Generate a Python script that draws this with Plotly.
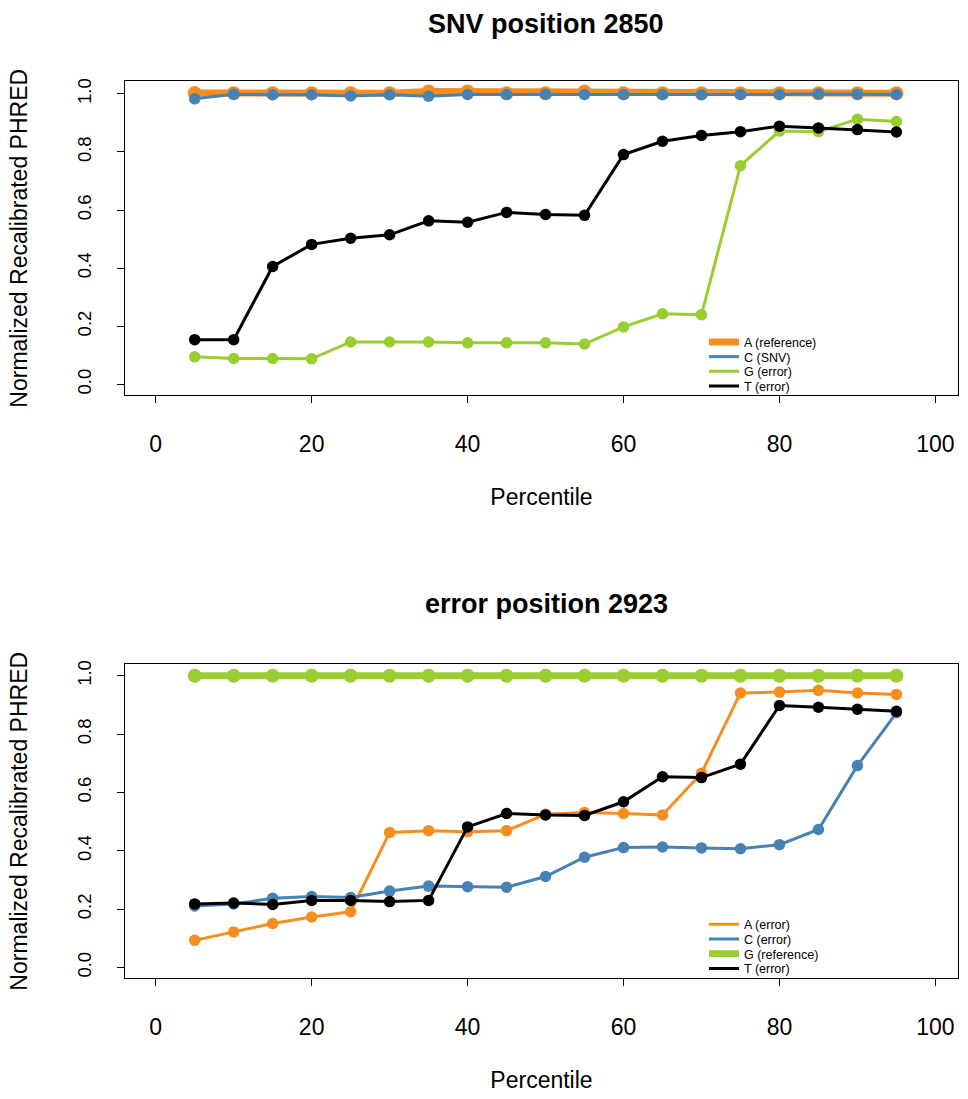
import plotly.graph_objects as go

# ---------------- data ----------------
percentile = [5, 10, 15, 20, 25, 30, 35, 40, 45, 50, 55, 60, 65, 70, 75, 80, 85, 90, 95]

# Panel 1: SNV position 2850
snv_A_reference = [1.003, 1.002, 1.002, 1.002, 1.002, 1.002, 1.008, 1.008, 1.002, 1.002,
                   1.008, 1.002, 1.002, 1.002, 1.002, 1.002, 1.002, 1.002, 1.002]
snv_C_snv = [0.983, 0.999, 0.997, 0.997, 0.993, 0.997, 0.992, 0.998, 0.998, 0.999,
             0.998, 0.998, 0.998, 0.997, 0.998, 0.998, 1.000, 0.999, 0.998]
snv_G_error = [0.095, 0.089, 0.089, 0.088, 0.146, 0.146, 0.146, 0.143, 0.143, 0.143,
               0.139, 0.198, 0.243, 0.240, 0.753, 0.872, 0.870, 0.913, 0.905]
snv_T_error = [0.154, 0.154, 0.406, 0.482, 0.503, 0.515, 0.563, 0.558, 0.592, 0.585,
               0.582, 0.791, 0.837, 0.857, 0.870, 0.889, 0.883, 0.877, 0.869]

# Panel 2: error position 2923
err_A_error = [0.093, 0.122, 0.151, 0.173, 0.191, 0.463, 0.469, 0.465, 0.469, 0.525,
               0.531, 0.528, 0.523, 0.666, 0.941, 0.944, 0.950, 0.941, 0.936]
err_C_error = [0.211, 0.218, 0.237, 0.243, 0.240, 0.262, 0.279, 0.277, 0.275, 0.312,
               0.378, 0.411, 0.413, 0.410, 0.407, 0.421, 0.473, 0.692, 0.873]
err_G_reference = [1.0] * 19
err_T_error = [0.218, 0.221, 0.216, 0.230, 0.230, 0.226, 0.230, 0.482, 0.528, 0.523,
               0.521, 0.568, 0.654, 0.651, 0.697, 0.898, 0.892, 0.885, 0.878]

titles = ["SNV position 2850", "error position 2923"]
x_ticks = [0, 20, 40, 60, 80, 100]
y_ticks = [0.0, 0.2, 0.4, 0.6, 0.8, 1.0]

ORANGE = "#F68D1F"
BLUE = "#4682B4"
GREEN = "#9ACD32"
BLACK = "#000000"

W, H = 968, 1099
FONT = "Liberation Sans, Arial, Helvetica, sans-serif"


def px_x(px):
    return px / W


def px_y(py):
    return 1 - py / H


fig = go.Figure()

panels = [
    dict(xa="x", ya="y", series=[
        ("A (reference)", snv_A_reference, ORANGE, True),
        ("C (SNV)", snv_C_snv, BLUE, False),
        ("G (error)", snv_G_error, GREEN, False),
        ("T (error)", snv_T_error, BLACK, False),
    ], legend_rows=[339.5, 354.3, 369.0, 383.8]),
    dict(xa="x2", ya="y2", series=[
        ("A (error)", err_A_error, ORANGE, False),
        ("C (error)", err_C_error, BLUE, False),
        ("G (reference)", err_G_reference, GREEN, True),
        ("T (error)", err_T_error, BLACK, False),
    ], legend_rows=[924.0, 938.8, 953.5, 968.3]),
]

legend_layouts = {}
lg_index = 1
for p in panels:
    for (name, vals, color, thick), row_y in zip(p["series"], p["legend_rows"]):
        lw = 7 if thick else 3
        ms = 14 if thick else 11.5
        fig.add_trace(go.Scatter(
            x=percentile, y=vals, mode="lines+markers", name=name,
            line=dict(color=color, width=lw),
            marker=dict(color=color, size=ms),
            xaxis=p["xa"], yaxis=p["ya"], showlegend=False,
        ))
        lg_name = "legend" if lg_index == 1 else f"legend{lg_index}"
        # legend-only entry (line sample without marker, as in the reference)
        fig.add_trace(go.Scatter(
            x=[None], y=[None], mode="lines", name=name,
            line=dict(color=color, width=lw),
            xaxis=p["xa"], yaxis=p["ya"], showlegend=True, legend=lg_name,
        ))
        legend_layouts[lg_name] = dict(
            x=px_x(704), y=px_y(row_y), xanchor="left", yanchor="middle",
            xref="paper", yref="paper",
            bgcolor="rgba(0,0,0,0)", borderwidth=0,
            font=dict(family=FONT, size=12.5, color="black"),
            itemclick=False, itemdoubleclick=False,
        )
        lg_index += 1

axis_common = dict(
    showline=True, linecolor="black", linewidth=1, mirror=True,
    ticks="outside", ticklen=7, tickwidth=1, tickcolor="black",
    showgrid=False, zeroline=False,
    tickfont=dict(family=FONT, color="black"),
)

x_dom = [px_x(125), px_x(958)]
top_dom = [px_y(392.8), px_y(77.5)]
bot_dom = [px_y(978), px_y(662.5)]

xaxis_def = dict(axis_common, domain=x_dom, range=[-3.94, 102.9],
                 tickvals=x_ticks, tickfont=dict(family=FONT, size=23, color="black"),
                 ticklabelstandoff=21,
                 title=dict(text="Percentile", font=dict(family=FONT, size=23, color="black"),
                            standoff=32))
yaxis_def = dict(axis_common, tickvals=y_ticks, tickformat=".1f", tickangle=-90,
                 tickfont=dict(family=FONT, size=18.5, color="black"),
                 ticklabelstandoff=19,
                 title=dict(text="Normalized Recalibrated PHRED",
                            font=dict(family=FONT, size=23, color="black"), standoff=39))

fig.update_layout(
    width=W, height=H,
    margin=dict(l=0, r=0, t=0, b=0),
    paper_bgcolor="white", plot_bgcolor="white",
    font=dict(family=FONT, color="black"),
    xaxis=dict(xaxis_def, anchor="y"),
    yaxis=dict(yaxis_def, domain=top_dom, range=[-0.0377, 1.0436], anchor="x"),
    xaxis2=dict(xaxis_def, anchor="y2"),
    yaxis2=dict(yaxis_def, domain=bot_dom, range=[-0.0375, 1.040], anchor="x2"),
    **legend_layouts,
)

for title, ty in zip(titles, [20.0, 602.5]):
    fig.add_annotation(
        text=title, x=px_x(546), y=px_y(ty), xref="paper", yref="paper",
        xanchor="center", yanchor="middle", showarrow=False,
        font=dict(family=FONT, size=27, color="black", weight="bold"),
    )

fig.write_html("out.html")
